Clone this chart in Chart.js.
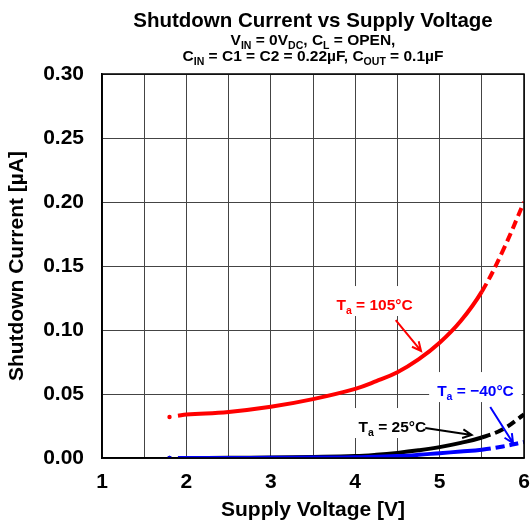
<!DOCTYPE html>
<html>
<head>
<meta charset="utf-8">
<script src="https://cdn.jsdelivr.net/npm/chart.js@4/dist/chart.umd.min.js"></script>
<style>
  html, body { margin: 0; padding: 0; background: #fff; }
</style>
</head>
<body>
<canvas id="shutdown-chart" width="531" height="523"></canvas>
<script>
// values
var voltages   = [1.8, 1.9, 2.0, 2.5, 3.0, 3.5, 4.0, 4.25, 4.5, 4.75, 5.0, 5.25, 5.5, 5.75, 6.0];
var current105 = [0.032, 0.033, 0.034, 0.036, 0.040, 0.046, 0.054, 0.060, 0.067, 0.077, 0.090, 0.107, 0.130, 0.162, 0.200];
var current25  = [0, 0, 0, 0.0002, 0.0004, 0.0008, 0.0015, 0.0025, 0.004, 0.006, 0.0085, 0.0118, 0.0160, 0.0225, 0.034];
var currentM40 = [0, 0, 0, 0, 0.0001, 0.0003, 0.0005, 0.001, 0.0015, 0.0025, 0.0038, 0.005, 0.0064, 0.009, 0.0125];
var xTickLabels = [1, 2, 3, 4, 5, 6];
var yTickLabels = ['0.00', '0.05', '0.10', '0.15', '0.20', '0.25', '0.30'];

var FONT = "'Liberation Sans', Arial, sans-serif";

function points(ys) {
  return voltages.map(function (v, i) { return { x: v, y: ys[i] }; });
}

function series(label, ys, color) {
  return {
    label: label,
    data: points(ys),
    borderColor: color,
    backgroundColor: color,
    borderWidth: 4,
    tension: 0.4,
    pointRadius: function (c) { return c.dataIndex === 0 ? 2.2 : 0; },
    pointBorderWidth: 0,
    segment: {
      borderColor: function (c) { return c.p0DataIndex === 0 ? 'rgba(0,0,0,0)' : undefined; },
      borderDash: function (c) { return c.p0.parsed.x >= 5.5 ? [9, 5] : undefined; }
    }
  };
}

// text with subscripts: parts = [[text, isSub], ...]
function richWidth(ctx, parts, size) {
  var w = 0;
  parts.forEach(function (p) {
    ctx.font = 'bold ' + (p[1] ? size * 0.68 : size) + 'px ' + FONT;
    w += ctx.measureText(p[0]).width;
  });
  return w;
}
function drawRich(ctx, parts, cx, baseline, size, color, box) {
  var w = richWidth(ctx, parts, size);
  var x = cx - w / 2;
  if (box) {
    ctx.fillStyle = '#fff';
    ctx.fillRect(x - 8, baseline - 24, w + 16, 30);
  }
  ctx.fillStyle = color;
  ctx.textAlign = 'left';
  ctx.textBaseline = 'alphabetic';
  parts.forEach(function (p) {
    var s = p[1] ? size * 0.68 : size;
    ctx.font = 'bold ' + s + 'px ' + FONT;
    ctx.fillText(p[0], x, baseline + (p[1] ? size * 0.28 : 0));
    x += ctx.measureText(p[0]).width;
  });
}
function arrow(ctx, x1, y1, x2, y2, color) {
  var a = Math.atan2(y2 - y1, x2 - x1), h = 10;
  ctx.strokeStyle = color;
  ctx.lineWidth = 2;
  ctx.beginPath();
  ctx.moveTo(x1, y1); ctx.lineTo(x2, y2);
  ctx.moveTo(x2 - h * Math.cos(a - 0.45), y2 - h * Math.sin(a - 0.45));
  ctx.lineTo(x2, y2);
  ctx.lineTo(x2 - h * Math.cos(a + 0.45), y2 - h * Math.sin(a + 0.45));
  ctx.stroke();
}

var annotations = [
  { parts: [['T', false], ['a', true], [' = 105°C', false]], color: '#ff0000', at: [4.23, 0.1195], from: [4.48, 0.1078], to: [4.78, 0.0836] },
  { parts: [['T', false], ['a', true], [' = 25°C', false]], color: '#000000', at: [4.44, 0.0242], from: [4.83, 0.0234], to: [5.38, 0.0180] },
  { parts: [['T', false], ['a', true], [' = \u221240°C', false]], color: '#0000ff', at: [5.425, 0.0523], from: [5.60, 0.0398], to: [5.87, 0.0117] }
];

var labelsPlugin = {
  id: 'labels',
  afterDatasetsDraw: function (chart) {
    var ctx = chart.ctx, xs = chart.scales.x, ys = chart.scales.y;
    ctx.save();
    annotations.forEach(function (a) {
      drawRich(ctx, a.parts, xs.getPixelForValue(a.at[0]), ys.getPixelForValue(a.at[1]) + 5, 15.5, a.color, true);
      arrow(ctx, xs.getPixelForValue(a.from[0]), ys.getPixelForValue(a.from[1]),
        xs.getPixelForValue(a.to[0]), ys.getPixelForValue(a.to[1]), a.color);
    });
    ctx.restore();
  },
  afterDraw: function (chart) {
    var ctx = chart.ctx, area = chart.chartArea;
    var cx = (area.left + area.right) / 2;
    ctx.save();
    drawRich(ctx, [['Shutdown Current vs Supply Voltage', false]], cx, 27, 20.5, '#000');
    drawRich(ctx, [['V', false], ['IN', true], [' = 0V', false], ['DC', true], [', C', false], ['L', true], [' = OPEN,', false]], cx, 45, 15.5, '#000');
    drawRich(ctx, [['C', false], ['IN', true], [' = C1 = C2 = 0.22µF, C', false], ['OUT', true], [' = 0.1µF', false]], cx, 61, 15.5, '#000');
    ctx.strokeStyle = '#000';
    ctx.lineWidth = 1.5;
    ctx.strokeRect(area.left, area.top, area.right - area.left, area.bottom - area.top);
    ctx.restore();
  }
};

var tickFont = { family: FONT, size: 21, weight: 'bold' };

new Chart(document.getElementById('shutdown-chart').getContext('2d'), {
  type: 'line',
  data: {
    datasets: [
      series('Ta = -40°C', currentM40, '#0000ff'),
      series('Ta = 105°C', current105, '#ff0000'),
      series('Ta = 25°C', current25, '#000000')
    ]
  },
  options: {
    responsive: false,
    animation: false,
    layout: { padding: { top: 74, right: 7, left: 0, bottom: 0 } },
    plugins: { legend: { display: false }, tooltip: { enabled: false } },
    scales: {
      x: {
        type: 'linear',
        min: 1,
        max: 6,
        afterFit: function (s) { s.height = 65; s.paddingLeft = 0; s.paddingRight = 0; },
        ticks: {
          stepSize: 0.5,
          padding: 12,
          color: '#000',
          font: tickFont,
          maxRotation: 0,
          autoSkip: false,
          callback: function (v) { return xTickLabels.indexOf(v) >= 0 ? String(v) : ''; }
        },
        grid: { color: '#444', lineWidth: 1, drawTicks: false },
        border: { color: '#000', width: 1.5 },
        title: { display: true, text: 'Supply Voltage [V]', color: '#000', font: tickFont, padding: { top: 0, bottom: 0 } }
      },
      y: {
        min: 0,
        max: 0.3,
        afterFit: function (s) { s.width = 102; s.paddingTop = 0; s.paddingBottom = 0; },
        ticks: {
          stepSize: 0.05,
          padding: 18,
          color: '#000',
          font: tickFont,
          callback: function (v) { return yTickLabels[Math.round(v / 0.05)]; }
        },
        grid: { color: '#444', lineWidth: 1, drawTicks: false },
        border: { color: '#000', width: 1.5 },
        title: { display: true, text: 'Shutdown Current [µA]', color: '#000', font: tickFont, padding: { top: 5, bottom: 0 } }
      }
    }
  },
  plugins: [labelsPlugin]
});
</script>
</body>
</html>
